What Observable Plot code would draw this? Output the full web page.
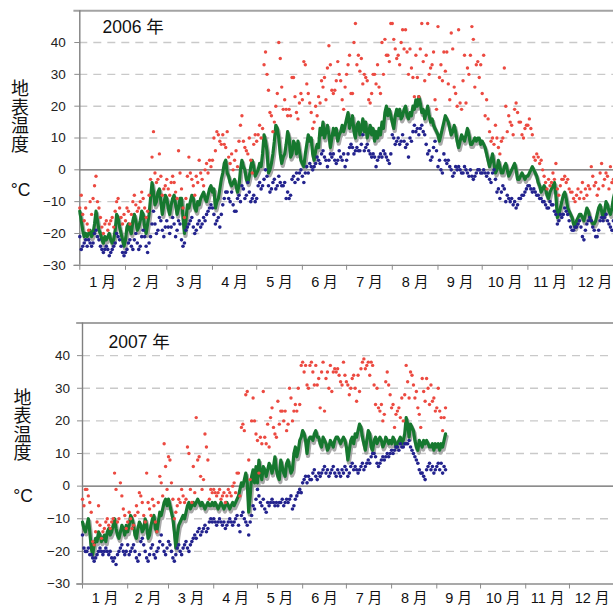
<!DOCTYPE html>
<html>
<head>
<meta charset="utf-8">
<script src="https://cdn.jsdelivr.net/npm/d3@7"></script>
<script src="https://cdn.jsdelivr.net/npm/@observablehq/plot@0.6"></script>
<style>
  html, body { margin: 0; padding: 0; background: #fff; overflow: hidden; }
  #chart { width: 613px; height: 609px; position: relative; }
  #chart svg { display: block; max-width: none; }
</style>
</head>
<body>
<div id="chart"></div>
<script>
// Daily surface temperature (°C): daily mean, daily maximum, daily minimum.
// Index = day of year (0 = 1 January).

const mean2006 = [
  -13,-16,-19,-21,-20,-21,-20,-19,-21,-20,-17,-13,-16,-19,-20,-22,-23,-21,-22,-21,-20,-22,-23,-22,-19,-14,-15,-18,-20,-22,-24,
  -22,-18,-17,-19,-20,-16,-14,-16,-19,-18,-16,-13,-14,-18,-20,-17,-14,-9,-4,-7,-11,-10,-7,-6,-10,-14,-11,-8,
  -9,-12,-14,-11,-9,-8,-11,-14,-12,-9,-9,-15,-20,-16,-11,-12,-10,-8,-9,-12,-13,-10,-11,-9,-8,-7,-9,-10,-8,-6,-5,
  -7,-6,-12,-10,-9,-6,-3,-1,2,3,-1,-2,-4,-5,-4,-3,-5,-7,-5,0,3,1,0,-3,-4,-2,1,3,1,-2,
  -1,0,2,1,5,11,9,6,-1,0,2,5,9,14,13,10,5,2,4,5,8,12,10,4,5,9,8,5,9,6,3,
  2,1,5,8,11,9,10,5,3,6,8,7,13,11,15,10,12,14,11,7,10,13,11,13,9,11,12,14,12,14,
  16,18,13,15,17,12,10,14,15,11,13,16,12,15,10,12,14,11,13,9,12,10,13,11,15,13,18,20,17,19,17,
  15,13,17,19,17,19,16,17,19,20,17,16,18,17,20,19,22,20,23,21,18,19,16,18,20,17,15,16,14,13,12,
  11,9,11,13,15,17,16,15,13,11,12,14,12,9,7,9,11,10,9,11,13,11,8,8,9,10,9,10,10,8,
  9,8,7,5,3,1,3,5,2,-1,0,3,1,-1,-1,1,2,0,-2,-1,0,1,2,0,-3,-3,-2,-1,-2,-3,-2,
  -2,-1,0,1,0,-1,-2,-4,-5,-7,-6,-5,-6,-8,-9,-7,-6,-5,-4,-8,-15,-14,-12,-10,-8,-7,-9,-12,-13,-14,
  -15,-17,-18,-16,-15,-14,-14,-15,-16,-14,-12,-13,-15,-16,-17,-17,-16,-14,-12,-11,-13,-15,-13,-10,-11,-13,-14,-12,-9,-7,-10
];
const max2006 = [
  -12,-8,-14,-16,-12,-17,-19,-10,-14,-9,-5,-2,-10,-12,-15,-18,-20,-17,-16,-19,-17,-16,-15,-18,-13,-10,-9,-12,-15,-17,-14,
  -16,-12,-13,-17,-14,-10,-8,-11,-13,-12,-10,-7,-9,-12,-15,-13,-8,-3,4,12,-1,-4,-3,5,-2,-8,-6,-5,
  -3,-6,-8,-4,-2,-4,-7,-9,6,-1,-6,-12,-15,-9,-2,4,-1,-3,-5,-8,-2,-4,3,-1,-3,-5,0,2,-1,3,1,
  3,10,6,12,11,9,8,11,8,7,12,4,2,5,0,3,6,1,9,14,17,9,7,6,5,10,3,-1,8,11,
  9,11,14,10,13,33,37,30,25,18,17,12,15,20,24,40,35,26,19,22,19,17,19,17,29,29,23,18,16,21,24,
  22,34,33,27,24,21,18,13,15,20,17,23,21,28,26,29,22,32,39,33,25,24,25,28,34,30,28,22,19,26,
  30,33,36,24,24,40,46,33,36,31,35,27,30,29,28,22,21,24,30,30,27,33,26,24,40,30,41,36,36,34,46,
  46,41,38,35,36,33,40,44,38,44,37,30,38,32,29,23,36,29,23,38,46,34,28,36,46,30,32,33,37,22,19,
  45,29,33,28,37,31,37,27,22,43,38,26,24,20,44,21,19,28,36,21,32,30,36,45,41,26,33,34,29,33,
  24,36,17,22,16,12,9,10,8,14,10,7,5,9,10,32,20,12,17,15,14,11,19,21,18,15,15,11,10,13,14,
  14,16,13,11,4,3,5,4,2,3,0,-2,-4,-6,-3,-5,-4,-1,-3,2,-6,-8,-5,-3,-3,-2,-4,-3,-6,-7,
  -7,-9,-10,-8,-6,-9,-7,-4,-9,-6,-8,-5,-6,1,-2,-5,-4,-8,-6,-1,2,-5,-3,-1,-2,-6,1,-4,-3,2,-2
];
const min2006 = [
  -21,-25,-24,-23,-22,-24,-22,-23,-24,-23,-20,-19,-21,-22,-24,-25,-26,-25,-24,-25,-27,-26,-25,-24,-23,-20,-21,-22,-24,-26,-27,
  -26,-25,-23,-22,-24,-25,-22,-20,-23,-25,-24,-21,-19,-21,-24,-26,-23,-21,-17,-13,-17,-20,-19,-15,-16,-19,-21,-18,
  -16,-18,-20,-18,-15,-17,-21,-19,-16,-17,-22,-24,-23,-19,-18,-17,-16,-15,-18,-20,-19,-17,-16,-18,-17,-15,-16,-14,-13,-12,-11,
  -12,-14,-17,-16,-15,-18,-14,-11,-9,-7,-7,-9,-10,-7,-11,-13,-13,-9,-8,-10,-5,-6,-9,-8,-4,-7,-10,-9,-8,-10,
  -9,-5,-4,-6,-5,-3,0,-2,-5,-7,-6,-4,-3,-6,-5,-2,-4,-5,-5,-4,-9,-7,-9,-8,-3,-2,-4,-1,-3,-1,0,
  -2,-4,-1,1,-1,2,1,0,1,2,4,3,2,5,6,4,3,1,3,5,4,5,3,2,3,6,4,3,5,1,
  3,5,7,8,7,5,6,7,6,6,8,11,6,7,8,6,5,4,5,4,1,3,4,5,4,6,5,4,3,2,5,
  11,10,8,9,10,8,9,11,9,7,8,4,10,9,12,14,12,13,11,13,14,12,11,8,5,6,3,4,7,9,6,
  1,3,0,-1,5,3,2,3,1,0,-2,-1,1,0,1,0,-1,-1,1,0,-1,-2,0,-2,-3,-2,-1,0,0,-1,
  -1,0,-1,-2,-1,-3,-4,-1,0,-3,-7,-6,-9,-7,-5,-6,-10,-8,-9,-10,-9,-11,-10,-12,-11,-9,-9,-8,-8,-7,-6,
  -5,-5,-6,-7,-6,-7,-8,-8,-9,-9,-10,-10,-11,-12,-12,-10,-11,-11,-13,-14,-17,-16,-14,-15,-14,-12,-13,-14,-16,-18,
  -19,-19,-18,-18,-17,-16,-18,-21,-22,-19,-17,-16,-15,-16,-18,-19,-21,-21,-19,-16,-15,-16,-15,-14,-16,-17,-18,-19,-16,-14,-15
];

const mean2007 = [
  -11,-13,-14,-12,-10,-14,-19,-21,-18,-16,-17,-14,-15,-17,-16,-15,-17,-14,-13,-15,-14,-12,-10,-13,-15,-16,-14,-12,-13,-15,-12,
  -14,-12,-9,-10,-12,-15,-16,-13,-11,-12,-14,-13,-10,-12,-16,-15,-12,-10,-9,-13,-14,-11,-8,-9,-7,-5,-4,-6,
  -4,-6,-8,-10,-14,-19,-15,-12,-11,-10,-9,-10,-8,-6,-5,-7,-6,-5,-6,-5,-4,-5,-6,-5,-6,-7,-6,-5,-6,-6,-5,
  -6,-5,-6,-7,-6,-5,-6,-7,-6,-5,-6,-7,-6,-5,-6,-5,-4,-3,-1,1,0,2,4,1,-8,-3,3,5,1,6,
  1,8,4,2,6,5,3,5,7,6,4,6,9,5,3,2,8,6,4,3,7,8,6,4,5,10,12,9,11,14,15,
  17,16,14,10,14,15,15,14,16,17,15,15,13,12,15,14,13,11,12,14,13,12,14,15,15,14,13,14,15,14,
  12,8,11,14,15,13,16,15,17,19,18,15,13,11,14,17,16,12,11,14,15,13,14,15,14,12,13,15,14,13,14,
  13,15,14,12,13,14,15,13,14,16,21,19,15,19,18,17,14,12,11,14,13,12,14,13,14,13,12,12,13,11,13,
  12,13,11,13,12,14,16
];
const max2007 = [
  -4,-6,-1,-1,-3,-5,-8,-17,-18,-14,-11,-6,-12,-16,-14,-13,-11,-10,-12,-13,-11,-10,4,-1,-11,-10,1,-3,-7,-9,-13,
  -11,-8,-10,-13,-12,-9,-6,-8,-2,-3,-5,-9,-11,4,-5,-7,-9,-4,-6,-11,-14,-5,3,1,-3,13,6,-1,
  9,8,1,-4,-10,-8,-6,-4,-5,-1,-3,-5,-4,12,10,-1,-5,6,-2,21,8,9,3,-1,2,16,12,8,-4,-1,-2,
  -1,-2,-3,-2,-1,-4,-3,-2,-5,-3,-1,-2,-3,0,1,-2,4,4,-3,18,19,17,28,29,8,2,20,27,20,16,
  14,4,15,13,29,15,13,19,12,21,24,18,16,15,26,19,23,23,20,23,17,19,30,27,20,23,25,23,30,25,37,
  38,35,37,31,30,37,38,35,31,37,31,33,24,35,38,23,33,35,30,37,29,35,36,35,36,34,32,31,38,34,
  32,31,28,30,33,34,30,26,34,29,36,38,39,36,37,38,34,38,37,31,25,30,24,23,25,20,22,32,35,31,28,
  24,25,18,22,23,24,21,27,20,28,37,32,27,35,34,31,27,29,24,22,18,33,29,26,33,30,25,31,26,27,23,
  24,30,23,21,17,21,24
];
const min2007 = [
  -15,-19,-20,-20,-19,-21,-21,-22,-23,-22,-21,-20,-19,-20,-21,-20,-19,-20,-21,-20,-22,-23,-22,-24,-21,-20,-19,-18,-20,-21,-20,
  -18,-21,-20,-19,-18,-20,-22,-23,-21,-17,-16,-18,-20,-22,-23,-21,-19,-18,-21,-22,-20,-19,-17,-15,-18,-20,-21,-19,
  -17,-18,-20,-22,-23,-21,-19,-18,-20,-21,-19,-18,-17,-19,-20,-18,-17,-16,-15,-16,-14,-13,-15,-14,-13,-12,-14,-13,-11,-10,-11,
  -10,-11,-12,-11,-10,-11,-12,-11,-13,-12,-11,-10,-11,-12,-11,-10,-9,-12,-14,-9,-8,-10,-11,-12,-15,-11,-9,-6,-7,-4,
  -1,-3,-5,-6,-4,-7,-8,-5,-6,-5,-4,-5,-6,-5,-6,-5,-5,-4,-6,-5,-4,-5,-4,-3,-7,-6,-4,-3,-2,-1,-2,
  1,2,3,1,3,2,2,4,5,3,2,4,3,4,5,6,4,5,3,4,5,6,4,3,5,4,3,5,4,6,
  5,3,4,6,7,5,6,5,4,5,6,7,5,6,7,8,7,9,10,10,9,7,6,7,8,9,8,9,10,9,10,
  11,10,11,12,12,11,13,12,12,13,13,13,14,12,11,10,9,8,7,5,4,4,3,2,5,6,7,5,6,4,5,
  6,7,5,7,4,6,5
];

// Axis definitions
const monthStarts = [0, 31, 59, 90, 120, 151, 181, 212, 243, 273, 304, 334, 365];
const monthLabels = ["1 月","2 月","3 月","4 月","5 月","6 月","7 月","8 月","9 月","10 月","11 月","12 月"];
const yTicks = [-30, -20, -10, 0, 10, 20, 30, 40];
const gridValues = [-20, -10, 10, 20, 30, 40];
const yDomain = [-30, 50];
const titles = ["2006 年", "2007 年"];
const yLabel = "地\n表\n温\n度";
const unitLabel = "°C";

const monthMids = monthStarts.slice(0, 12).map((d, i) => (d + monthStarts[i + 1]) / 2);
const labelAt = new Map(monthMids.map((d, i) => [d, monthLabels[i]]));

const FONT = "'Liberation Sans', Arial, 'Noto Sans CJK JP', sans-serif";

function panel(cfg) {
  const rows = arr => arr.map((v, i) => ({day: i, v}));
  const meanRows = rows(cfg.mean);
  return Plot.plot({
    width: 613,
    height: cfg.height,
    marginLeft: cfg.left,
    marginTop: cfg.top,
    marginBottom: cfg.height - cfg.bottom,
    marginRight: 0,
    style: {fontFamily: FONT, background: "#fff", overflow: "hidden"},
    x: {domain: [0, 365], range: [cfg.left, cfg.left + 365 * cfg.slope], axis: null},
    y: {domain: yDomain, range: [cfg.bottom, cfg.top], axis: null},
    marks: [
      // horizontal dashed grid
      Plot.ruleY(gridValues, {stroke: "#c9c9c9", strokeWidth: 1.4, strokeDasharray: "8,6"}),
      // zero line
      Plot.ruleY([0], {x1: 0, x2: 372, stroke: "#666", strokeWidth: 1.4}),
      // top frame and bottom axis line
      Plot.ruleY([50], {x1: -4, x2: 372, stroke: "#a3a3a3", strokeWidth: 2}),
      Plot.ruleY([-30], {x1: -4, x2: 372, stroke: "#8c8c8c", strokeWidth: 1.3}),
      // left axis line
      Plot.ruleX([0], {y1: -30, y2: 50, stroke: "#808080", strokeWidth: 1.4}),
      Plot.axisY(yTicks, {
        tickSize: 5, tickPadding: cfg.yPad, fontSize: 13.5, stroke: "#8c8c8c",
        fill: "#222", label: null
      }),
      // month boundary ticks (no labels)
      Plot.axisX(monthStarts.slice(0, 12), {
        tickSize: 5, stroke: "#8c8c8c", tickFormat: () => "", label: null
      }),
      // month names centred in each month
      Plot.axisX(monthMids, {
        tickSize: 0, tickPadding: cfg.xPad, fontSize: 14.5, fill: "#111",
        tickFormat: d => labelAt.get(d), label: null
      }),
      // daily mean with its grey shadow
      Plot.line(meanRows, {x: "day", y: "v", stroke: "#9a9a9a", strokeOpacity: 0.85,
        strokeWidth: 4.2, dx: 1, dy: 2.5}),
      Plot.line(meanRows, {x: "day", y: "v", stroke: "#16782f", strokeWidth: 3.2}),
      // daily maximum and minimum
      Plot.dot(rows(cfg.max), {x: "day", y: "v", r: 1.7, fill: "#ec4a41"}),
      Plot.dot(rows(cfg.min), {x: "day", y: "v", r: 1.8, fill: "#23238e"}),
      // title and axis label
      Plot.text([cfg.title], {text: d => d, frameAnchor: "top-left", textAnchor: "start",
        lineAnchor: "middle", dx: cfg.titleDx, dy: cfg.titleDy, fontSize: 17.5, fill: "#111"}),
      Plot.text([yLabel], {text: d => d, frameAnchor: "left", textAnchor: "middle",
        lineAnchor: "middle", lineHeight: 1.03, dx: cfg.labelDx, dy: cfg.labelDy, fontSize: 18, fill: "#111"}),
      Plot.text([unitLabel], {text: d => d, frameAnchor: "left", textAnchor: "middle",
        lineAnchor: "middle", dx: cfg.unitDx, dy: cfg.unitDy, fontSize: 17.5, fill: "#111"})
    ]
  });
}

const chart = document.getElementById("chart");
chart.append(panel({
  title: titles[0], mean: mean2006, max: max2006, min: min2006,
  height: 300, left: 79.3, top: 10.2, bottom: 264.8, slope: 1.474,
  yPad: 9, xPad: 11,
  titleDx: 22.7, titleDy: 16.8,
  labelDx: -59.8, labelDy: -21, unitDx: -59.3, unitDy: 52.5
}));
chart.append(panel({
  title: titles[1], mean: mean2007, max: max2007, min: min2007,
  height: 309, left: 82, top: 22.5, bottom: 283.5, slope: 1.458,
  yPad: 7.5, xPad: 8.5,
  titleDx: 26, titleDy: 19,
  labelDx: -60, labelDy: -28, unitDx: -59.5, unitDy: 42.5
}));
</script>
</body>
</html>
